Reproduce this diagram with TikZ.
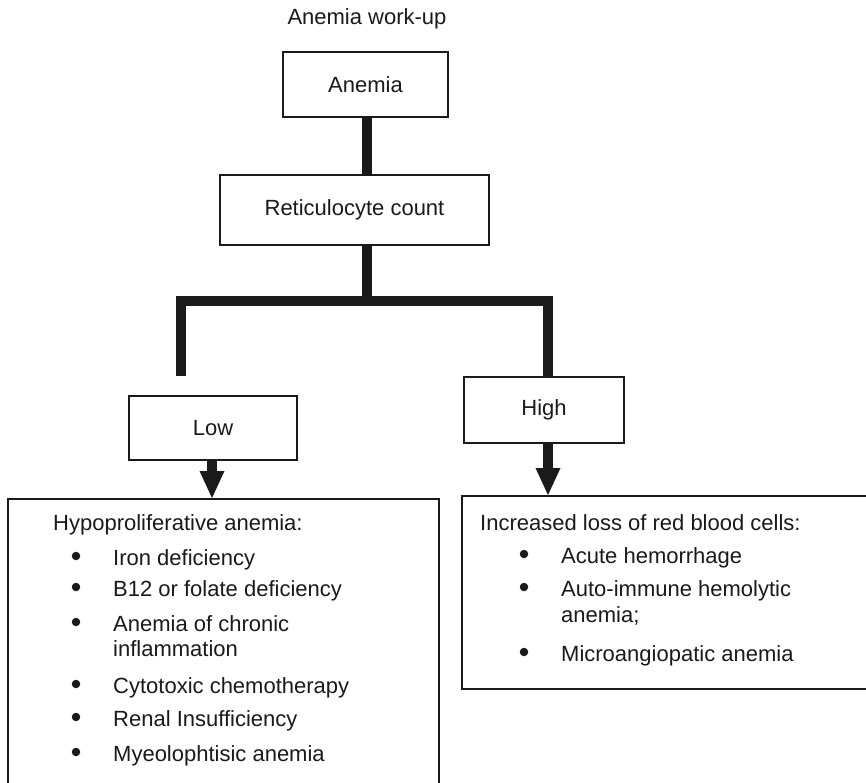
\documentclass[tikz,border=0pt]{standalone}
\usepackage{fontspec}
\setmainfont{Liberation Sans}
\usetikzlibrary{arrows.meta}
\definecolor{ink}{HTML}{1A1A1A}
\begin{document}
\begin{tikzpicture}[x=1pt,y=-1pt,
  every node/.style={font=\fontsize{22}{26}\selectfont, text=ink},
  box/.style={draw=ink, line width=2pt, fill=white, inner sep=0pt, align=center},
  conn/.style={draw=ink, line width=9.5pt},
  arr/.style={draw=ink, line width=9.5pt, -{Triangle[width=25pt 0 0,length=27pt 0 0,line width=0pt]}},
  lbl/.style={anchor=base west, inner sep=0pt},
  dot/.style={circle, fill=ink, draw=none, inner sep=0pt, minimum size=8.5pt}]
\useasboundingbox (0,0) rectangle (866,783);
\clip (0,0) rectangle (866,783);

% title
\node[inner sep=0pt, anchor=base] (title) at (367,25) {Anemia work-up};

% boxes
\node[box, minimum width=165pt, minimum height=65pt] (anemia) at (365.5,84.5) {Anemia};
\node[box, minimum width=269pt, minimum height=70pt] (retic) at (354.5,210) {Reticulocyte count};
\node[box, minimum width=168pt, minimum height=64pt] (low) at (213,428) {Low};
\node[box, minimum width=160pt, minimum height=66pt] (high) at (544,410) {High};
\node[box, minimum width=431pt, minimum height=320pt, anchor=north west] (lbox) at (7,498) {};
\node[box, minimum width=430pt, minimum height=193pt, anchor=north west] (rbox) at (461,495) {};

% connectors
\coordinate (split) at (367,301);
\coordinate (lowend) at (181,376);
\draw[conn] (anemia.south -| split) -- (retic.north -| split);
\draw[conn] (retic.south -| split) -- (split);
\draw[conn] (lowend) |- (split) -| ([xshift=4pt]high.north);
\draw[arr] ([xshift=-1pt]low.south) -- ([xshift=-1pt]low.south |- lbox.north);
\draw[arr] ([xshift=4pt]high.south) -- ([xshift=4pt]high.south |- rbox.north);

% left box text
\node[lbl] (lh) at (53,530) {Hypoproliferative anemia:};
\node[dot] (lb1) at (76,556) {};
\node[lbl] (l1) at (113,565) {Iron deficiency};
\node[dot] (lb2) at (76,587) {};
\node[lbl] (l2) at (113,596) {B12 or folate deficiency};
\node[dot] (lb3) at (76,622) {};
\node[lbl] (l3) at (113,631) {Anemia of chronic};
\node[lbl] (l3b) at (113,656) {inflammation};
\node[dot] (lb4) at (76,684) {};
\node[lbl] (l4) at (113,693) {Cytotoxic chemotherapy};
\node[dot] (lb5) at (76,717) {};
\node[lbl] (l5) at (113,726) {Renal Insufficiency};
\node[dot] (lb6) at (76,752) {};
\node[lbl] (l6) at (113,761) {Myeolophtisic anemia};

% right box text
\node[lbl] (rh) at (480,530) {Increased loss of red blood cells:};
\node[dot] (rb1) at (524,554) {};
\node[lbl] (r1) at (561,563) {Acute hemorrhage};
\node[dot] (rb2) at (524,587) {};
\node[lbl] (r2) at (561,596) {Auto-immune hemolytic};
\node[lbl] (r2b) at (561,622) {anemia;};
\node[dot] (rb3) at (524,652) {};
\node[lbl] (r3) at (561,661) {Microangiopatic anemia};
\end{tikzpicture}
\end{document}
